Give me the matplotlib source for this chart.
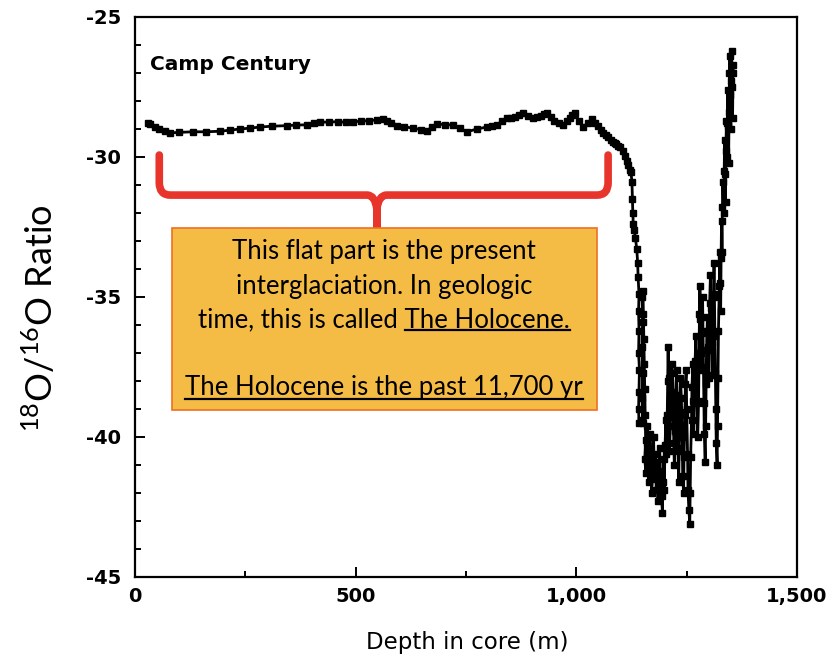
import matplotlib
matplotlib.use("Agg")
import matplotlib.pyplot as plt
from matplotlib.path import Path
from matplotlib.patches import PathPatch, Rectangle
from matplotlib.lines import Line2D
from matplotlib.ticker import MultipleLocator, FuncFormatter

# --- data ---
# flat (Holocene) section
depth_flat = [29, 34, 45, 55, 67, 79, 100, 131, 160, 193, 215, 238, 260, 283, 310, 344,
              365, 390, 405, 419, 440, 460, 478, 494, 512, 530, 548, 562, 572, 580, 593,
              610, 630, 647, 662, 673, 684, 702, 721, 737, 752, 775, 797, 810, 820, 832,
              843, 852, 860, 870, 880, 891, 902, 911, 920, 927, 933, 942, 950, 960, 970,
              978, 985, 991, 997, 1006, 1016, 1026, 1035, 1043, 1050, 1056, 1061, 1067,
              1072, 1078, 1083, 1087, 1091, 1095, 1099]
ratio_flat = [-28.80, -28.82, -28.92, -29.00, -29.08, -29.14, -29.12, -29.10, -29.10,
              -29.08, -29.04, -29.00, -28.97, -28.93, -28.90, -28.88, -28.86, -28.85,
              -28.80, -28.76, -28.75, -28.74, -28.76, -28.74, -28.72, -28.70, -28.68,
              -28.64, -28.70, -28.78, -28.90, -28.92, -28.97, -29.02, -29.07, -28.92,
              -28.82, -28.84, -28.86, -28.98, -29.10, -29.00, -28.93, -28.88, -28.85,
              -28.72, -28.60, -28.62, -28.58, -28.50, -28.43, -28.52, -28.60, -28.58,
              -28.55, -28.48, -28.43, -28.58, -28.70, -28.78, -28.86, -28.70, -28.60,
              -28.50, -28.43, -28.70, -28.93, -28.78, -28.64, -28.80, -28.90, -29.05,
              -29.14, -29.22, -29.30, -29.38, -29.46, -29.50, -29.55, -29.60, -29.64]

# deglaciation and glacial section
depth_glacial = [1105, 1110, 1114, 1118, 1121, 1124, 1126, 1127, 1128, 1129, 1131, 1134,
                 1137, 1139, 1140, 1142, 1141, 1142, 1141, 1143, 1142, 1141, 1142, 1146,
                 1150, 1149, 1150, 1149, 1150, 1149, 1151, 1152, 1153, 1154, 1155, 1156,
                 1157, 1155, 1158, 1160, 1161, 1163, 1164, 1166, 1167, 1169, 1171, 1173,
                 1175, 1177, 1179, 1181, 1183, 1185, 1187, 1189, 1191, 1193, 1195, 1196,
                 1198, 1199, 1201, 1203, 1204, 1206, 1207, 1208, 1209, 1210, 1211, 1213,
                 1214, 1216, 1218, 1219, 1221, 1222, 1224, 1225, 1227, 1229, 1230, 1232,
                 1233, 1235, 1236, 1238, 1240, 1241, 1243, 1244, 1246, 1247, 1249, 1250,
                 1252, 1253, 1255, 1257, 1258, 1259, 1261, 1262, 1264, 1265, 1266, 1268,
                 1269, 1271, 1272, 1274, 1275, 1277, 1278, 1279, 1280, 1281, 1282, 1283,
                 1285, 1286, 1287, 1288, 1289, 1290, 1292, 1293, 1294, 1295, 1297, 1298,
                 1300, 1301, 1302, 1304, 1305, 1307, 1308, 1309, 1311, 1312, 1313, 1314,
                 1315, 1316, 1317, 1319, 1320, 1321, 1322, 1324, 1325, 1326, 1327, 1328,
                 1329, 1330, 1331, 1332, 1334, 1335, 1336, 1337, 1338, 1339, 1340, 1341,
                 1342, 1343, 1344, 1345, 1346, 1347, 1348, 1349, 1350, 1351, 1352, 1353,
                 1354, 1355, 1356]
ratio_glacial = [-29.80, -29.95, -30.15, -30.30, -30.45, -30.55, -30.90, -31.50, -32.00,
                 -32.40, -32.60, -32.90, -33.30, -33.80, -34.30, -34.90, -35.50, -36.20,
                 -37.00, -37.60, -38.40, -39.00, -39.50, -39.40, -39.50, -38.60, -37.70,
                 -36.80, -35.90, -35.00, -34.80, -35.60, -36.50, -37.40, -38.30, -39.20,
                 -40.10, -40.80, -41.30, -40.20, -39.60, -40.60, -41.60, -40.50, -39.90,
                 -41.20, -42.00, -40.80, -40.00, -41.50, -40.60, -41.90, -40.90, -42.30,
                 -41.20, -40.40, -41.70, -42.10, -42.70, -41.60, -40.80, -41.90, -40.30,
                 -39.40, -40.60, -39.20, -38.00, -36.80, -37.90, -39.30, -40.50, -39.60,
                 -38.40, -37.40, -37.70, -38.90, -40.20, -41.00, -39.80, -38.50, -37.60,
                 -38.80, -40.40, -41.60, -40.50, -39.10, -37.90, -38.60, -40.00, -41.40,
                 -42.00, -40.70, -39.20, -38.10, -37.60, -39.00, -40.60, -41.90, -42.60,
                 -43.10, -42.00, -40.70, -39.40, -38.20, -37.40, -38.70, -39.90, -38.60,
                 -37.30, -36.40, -37.60, -38.80, -40.00, -38.70, -37.00, -35.60, -34.60,
                 -35.80, -37.00, -37.60, -36.30, -35.00, -36.20, -37.50, -38.80, -39.90,
                 -40.90, -39.60, -38.10, -36.90, -35.70, -36.80, -37.90, -36.50, -35.20,
                 -34.20, -35.40, -36.60, -37.80, -36.30, -34.90, -33.80, -35.00, -36.40,
                 -37.70, -39.00, -40.20, -41.00, -39.60, -37.90, -36.20, -34.60, -33.40,
                 -34.50, -35.50, -33.60, -32.30, -33.40, -31.80, -30.90, -32.00, -30.50,
                 -29.40, -30.60, -31.60, -29.80, -28.70, -30.00, -28.80, -27.60, -28.90,
                 -30.20, -28.40, -27.00, -26.40, -27.80, -29.00, -27.30, -26.20, -27.50,
                 -28.60, -27.00, -26.70]

depth = depth_flat + depth_glacial
ratio = ratio_flat + ratio_glacial

box_lines = ["This flat part is the present",
             "interglaciation. In geologic",
             "time, this is called The Holocene.",
             "The Holocene is the past 11,700 yr"]

TICK_FONT = "DejaVu Sans"
BOX_FONT = "Lato"

fig = plt.figure(figsize=(8.33, 6.58), dpi=100)
ax = fig.add_axes([135 / 833, 1 - 577 / 658, 662 / 833, 560 / 658])

ax.plot(depth, ratio, color="black", linewidth=2.0, marker="s", markersize=3.8, zorder=3)

ax.set_xlim(0, 1500)
ax.set_ylim(-45, -25)
ax.xaxis.set_major_locator(MultipleLocator(500))
ax.xaxis.set_minor_locator(MultipleLocator(250))
ax.yaxis.set_major_locator(MultipleLocator(5))
ax.yaxis.set_minor_locator(MultipleLocator(1))
ax.xaxis.set_major_formatter(FuncFormatter(lambda v, p: f"{int(v):,}"))
ax.yaxis.set_major_formatter(FuncFormatter(lambda v, p: f"{int(v)}"))
ax.tick_params(which="both", direction="in", width=1.4, colors="black")
ax.tick_params(which="major", length=7)
ax.tick_params(which="minor", length=4)
ax.tick_params(axis="y", pad=10)
ax.tick_params(axis="x", pad=7)
for lab in ax.get_xticklabels() + ax.get_yticklabels():
    lab.set_fontfamily(TICK_FONT)
    lab.set_fontsize(14)
    lab.set_fontweight("bold")
for sp in ax.spines.values():
    sp.set_linewidth(1.6)

ax.text(33, -26.71, "Camp Century", family=TICK_FONT, fontsize=14.5,
        fontweight="bold", va="center", ha="left")

fig.text(467 / 833, 1 - 643 / 658, "Depth in core (m)", family=TICK_FONT,
         fontsize=16.5, ha="center", va="center")

plt.rcParams["mathtext.fontset"] = "custom"
plt.rcParams["mathtext.rm"] = BOX_FONT
plt.rcParams["mathtext.it"] = BOX_FONT
fig.text(40 / 833, 1 - 318 / 658, r"$\mathrm{^{18}}$O/$\mathrm{^{16}}$O Ratio",
         family=BOX_FONT, fontsize=26, rotation=90, ha="center", va="center")

# red curly brace
red = "#E8352B"
yt, yh, ytip = -29.93, -31.36, -32.7
xl, xr, xc = 55, 1072, 548
r = 25
verts = [(xl, yt), (xl, yh + 0.45), (xl, yh), (xl + r, yh),
         (xc - 22, yh), (xc - 4, yh), (xc, yh - 0.5),
         (xc, ytip), (xc, yh - 0.5),
         (xc + 4, yh), (xc + 22, yh),
         (xr - r, yh), (xr, yh), (xr, yh + 0.45), (xr, yt)]
codes = [Path.MOVETO, Path.LINETO, Path.CURVE3, Path.CURVE3,
         Path.LINETO, Path.CURVE3, Path.CURVE3,
         Path.LINETO, Path.LINETO,
         Path.CURVE3, Path.CURVE3,
         Path.LINETO, Path.CURVE3, Path.CURVE3, Path.LINETO]
ax.add_patch(PathPatch(Path(verts, codes), facecolor="none", edgecolor=red,
                       linewidth=5.5, capstyle="round", joinstyle="round", zorder=4))

# orange box
ax.add_patch(Rectangle((84, -39.04), 963, 6.5, facecolor="#F4BC45",
                       edgecolor="#EE7022", linewidth=1.2, zorder=5))

cx = 565
line_y = [-33.39, -34.64, -35.82, -38.25]
texts = []
for s, y in zip(box_lines, line_y):
    texts.append(ax.text(cx, y, s, family=BOX_FONT, fontsize=18.5, ha="center",
                         va="center", zorder=6))

# underline "The Holocene." and the last line
fig.canvas.draw()
rend = fig.canvas.get_renderer()
W, H = fig.bbox.width, fig.bbox.height
tmp = ax.text(0, 0, "The Holocene.", family=BOX_FONT, fontsize=18.5)
w_hol = tmp.get_window_extent(rend).width
tmp.remove()
for t, part in [(texts[2], w_hol), (texts[3], None)]:
    bb = t.get_window_extent(rend)
    x0 = bb.x1 - part if part else bb.x0
    yy = bb.y0 + 2
    fig.add_artist(Line2D([x0 / W, bb.x1 / W], [yy / H, yy / H], color="black",
                          linewidth=1.6, transform=fig.transFigure, zorder=7))

fig.savefig("out.png", dpi=100)
